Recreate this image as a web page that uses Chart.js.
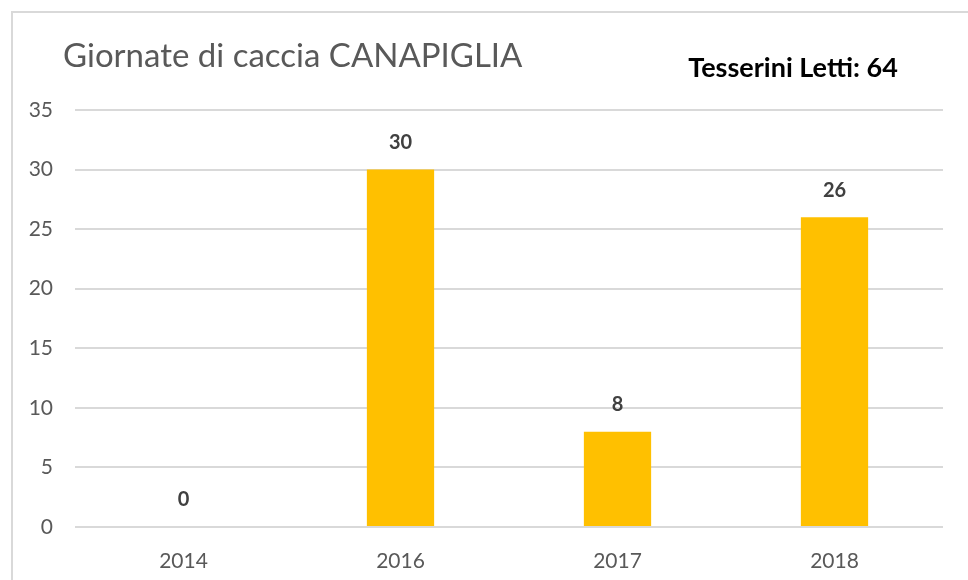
<!DOCTYPE html>
<html>
<head>
<meta charset="utf-8">
<script src="https://cdn.jsdelivr.net/npm/chart.js@4"></script>
<style>
  html, body { margin: 0; padding: 0; background: #fff; }
  #wrap { width: 968px; height: 580px; }
</style>
</head>
<body>
<div id="wrap"><canvas id="chart" width="968" height="580"></canvas></div>
<script>
// Dati
const anni = ["2014", "2016", "2017", "2018"];
const giornate = [0, 30, 8, 26];
const titolo = "Giornate di caccia CANAPIGLIA";
const nota = "Tesserini Letti: 64";

const font = "Lato, 'Open Sans', sans-serif";

// Cornice, titolo e etichette sopra le barre
const decorazioni = {
  id: "decorazioni",
  beforeDraw(chart) {
    const ctx = chart.ctx;
    ctx.save();
    ctx.strokeStyle = "#d9d9d9";
    ctx.lineWidth = 2;
    ctx.strokeRect(12, 12, 1000, 1000);
    ctx.restore();
  },
  afterDraw(chart) {
    const ctx = chart.ctx;
    ctx.save();
    ctx.fillStyle = "#595959";
    ctx.font = "33px " + font;
    ctx.textBaseline = "middle";
    ctx.textAlign = "left";
    ctx.fillText(titolo, 63, 56);

    ctx.fillStyle = "#000";
    ctx.font = "bold 27px " + font;
    ctx.textAlign = "center";
    ctx.fillText(nota, 793, 68);

    ctx.fillStyle = "#404040";
    ctx.font = "bold 20px " + font;
    const meta = chart.getDatasetMeta(0);
    meta.data.forEach((bar, i) => {
      ctx.fillText(String(giornate[i]), bar.x, bar.y - 27);
    });
    ctx.restore();
  }
};

new Chart(document.getElementById("chart"), {
  type: "bar",
  data: {
    labels: anni,
    datasets: [{
      data: giornate,
      backgroundColor: "#ffc000",
      barPercentage: 0.31,
      categoryPercentage: 1
    }]
  },
  options: {
    responsive: false,
    animation: false,
    layout: { padding: { left: 0, top: 110, right: 25, bottom: 0 } },
    plugins: {
      legend: { display: false },
      title: { display: false },
      tooltip: { enabled: false }
    },
    scales: {
      x: {
        grid: { display: false },
        border: { display: false },
        ticks: { color: "#595959", font: { family: font, size: 21 }, padding: 14 },
        afterFit(scale) { scale.height = 53; }
      },
      y: {
        min: 0,
        max: 35,
        ticks: { stepSize: 5, color: "#595959", font: { family: font, size: 21 }, padding: 22 },
        grid: { color: "#d9d9d9", lineWidth: 2, drawTicks: false },
        border: { display: false },
        afterFit(scale) { scale.width = 75; }
      }
    }
  },
  plugins: [decorazioni]
});
</script>
</body>
</html>
